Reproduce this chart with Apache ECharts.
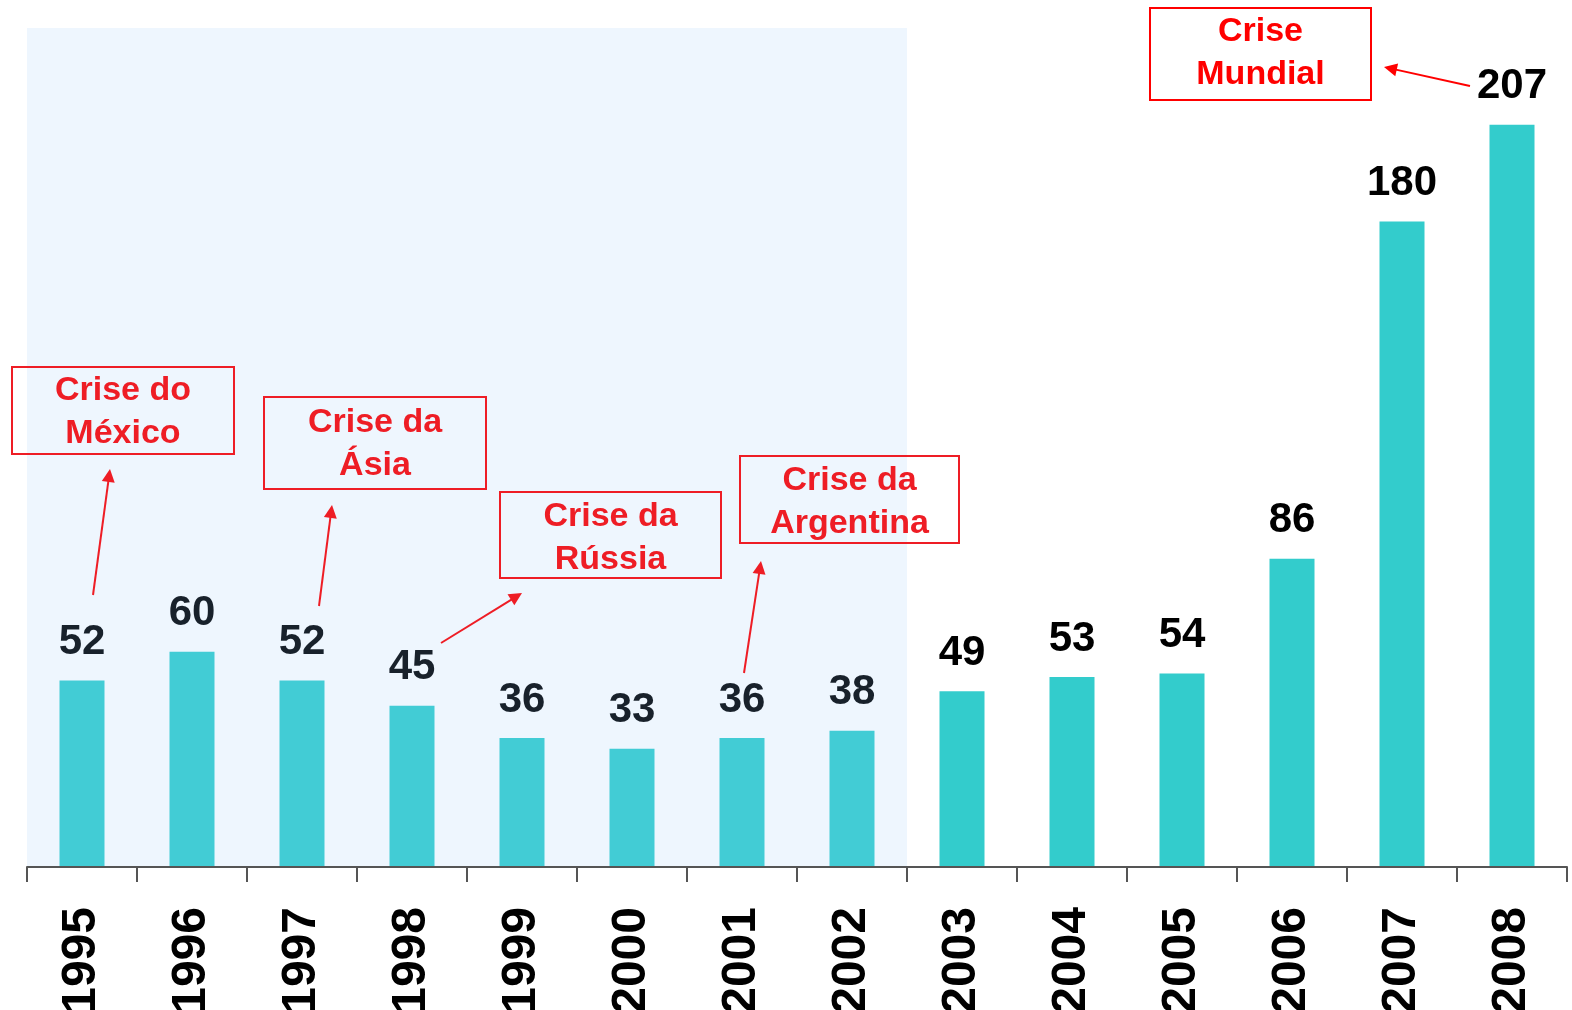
<!DOCTYPE html>
<html>
<head>
<meta charset="utf-8">
<style>
  html, body { margin: 0; padding: 0; background: #ffffff; }
  #chart { width: 1572px; height: 1010px; }
</style>
<script src="https://cdn.jsdelivr.net/npm/echarts@6/dist/echarts.min.js"></script>
</head>
<body>
<div id="chart"></div>
<script>
// ---- data ----
const categories = ['1995','1996','1997','1998','1999','2000','2001','2002','2003','2004','2005','2006','2007','2008'];
const values = [52, 60, 52, 45, 36, 33, 36, 38, 49, 53, 54, 86, 180, 207];
const shadedRange = ['1995', '2002'];
const annotationTexts = ['Crise do\nMéxico', 'Crise da\nÁsia', 'Crise da\nRússia', 'Crise da\nArgentina', 'Crise\nMundial'];

// ---- styles ----
const FONT = 'Arial, "Liberation Sans", sans-serif';
const barColor = '#33CCCC';
const barColorShaded = '#42CCD5';
const labelColor = '#000000';
const labelColorShaded = '#18212B';
const redShaded = '#EE1D25';
const red = '#FF0000';

const shadeStart = categories.indexOf(shadedRange[0]);
const shadeEnd = categories.indexOf(shadedRange[1]);
const inShade = i => i >= shadeStart && i <= shadeEnd;

// annotation layout (pixels): box [x, y, w, h], arrow [x1, y1, x2, y2] (tail -> tip), text offset dy
const annotationLayout = [
  { box: [12, 367, 222, 87], arrow: [93, 595, 110, 469], dy: 2, shaded: true },
  { box: [264, 397, 222, 92], arrow: [319, 606, 332, 505], dy: 1, shaded: true },
  { box: [500, 492, 221, 86], arrow: [441, 643, 522, 593], dy: 3, shaded: true },
  { box: [740, 456, 219, 87], arrow: [744, 673, 761, 561], dy: 3, shaded: true },
  { box: [1150, 8, 221, 92], arrow: [1470, 86, 1384, 67], dy: -1, shaded: false }
];

function buildGraphics() {
  const els = [];
  annotationLayout.forEach((a, k) => {
    const col = a.shaded ? redShaded : red;
    const [bx, by, bw, bh] = a.box;
    els.push({
      type: 'rect', z: 100,
      shape: { x: bx, y: by, width: bw, height: bh },
      style: { fill: 'none', stroke: col, lineWidth: 2 }
    });
    els.push({
      type: 'text', z: 100,
      x: bx + bw / 2, y: by + bh / 2 + a.dy,
      style: {
        text: annotationTexts[k], fill: col, font: 'bold 34px ' + FONT,
        align: 'center', verticalAlign: 'middle', lineHeight: 43
      }
    });
    const [x1, y1, x2, y2] = a.arrow;
    const dx = x2 - x1, dy = y2 - y1, len = Math.sqrt(dx * dx + dy * dy);
    const ux = dx / len, uy = dy / len;
    const hl = 13, hw = 6.5;
    const bxp = x2 - ux * hl, byp = y2 - uy * hl;
    els.push({
      type: 'line', z: 100,
      shape: { x1: x1, y1: y1, x2: bxp + ux * 2, y2: byp + uy * 2 },
      style: { stroke: col, lineWidth: 2 }
    });
    els.push({
      type: 'polygon', z: 100,
      shape: { points: [[x2, y2], [bxp - uy * hw, byp + ux * hw], [bxp + uy * hw, byp - ux * hw]] },
      style: { fill: col }
    });
  });
  return els;
}

const chart = echarts.init(document.getElementById('chart'), null, { renderer: 'canvas' });
chart.setOption({
  animation: false,
  backgroundColor: '#ffffff',
  grid: { left: 27, right: 5, top: 28, bottom: 143, containLabel: false, outerBoundsMode: 'none' },
  xAxis: {
    type: 'category',
    data: categories,
    z: 10,
    axisLine: { show: true, lineStyle: { color: '#555555', width: 2 } },
    axisTick: { show: true, length: 15, interval: 0, alignWithLabel: false, lineStyle: { color: '#555555', width: 2 } },
    axisLabel: {
      rotate: 90, margin: 40, interval: 0,
      color: '#000000', fontSize: 48, fontWeight: 'bold', fontFamily: FONT
    }
  },
  yAxis: {
    type: 'value', min: 0, max: 234,
    show: false, splitLine: { show: false }
  },
  series: [{
    type: 'bar',
    barWidth: 45,
    data: values.map((v, i) => ({
      value: v,
      itemStyle: { color: inShade(i) ? barColorShaded : barColor },
      label: { color: inShade(i) ? labelColorShaded : labelColor }
    })),
    label: {
      show: true, position: 'top', distance: 17,
      fontSize: 42, fontWeight: 'bold', fontFamily: FONT
    },
    markArea: {
      silent: true,
      itemStyle: { color: '#EEF6FE' },
      data: [[{ xAxis: shadedRange[0] }, { xAxis: shadedRange[1] }]]
    }
  }],
  graphic: buildGraphics()
});
</script>
</body>
</html>
